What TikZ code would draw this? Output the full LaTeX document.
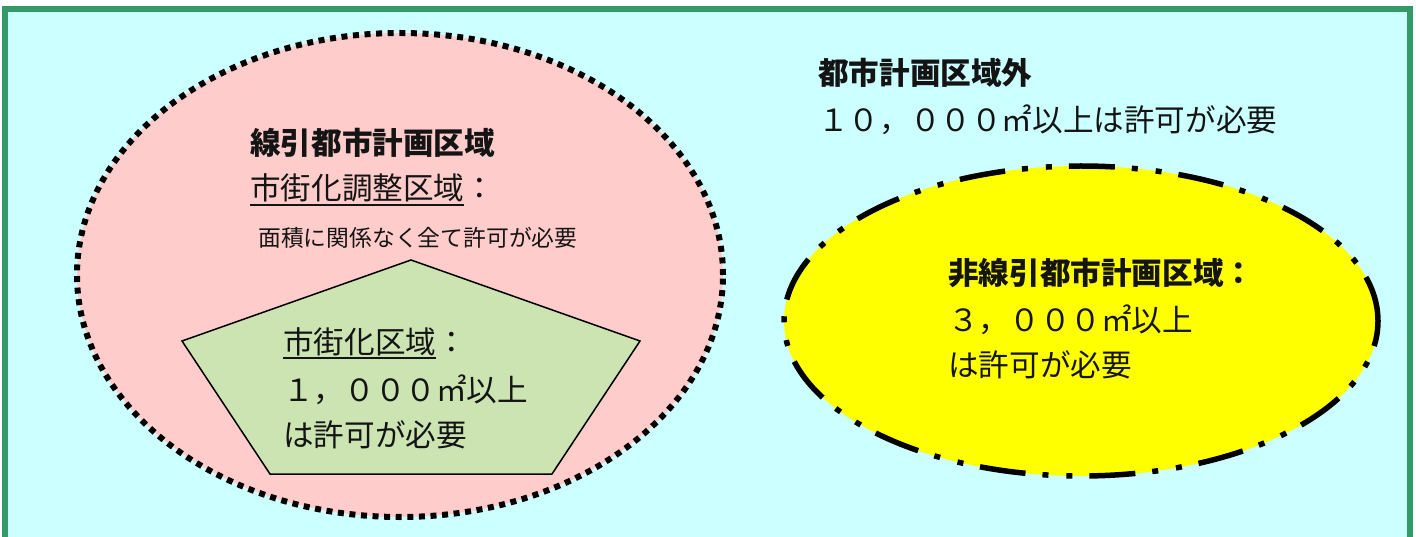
\documentclass[tikz,border=0pt]{standalone}
\usepackage{fontspec}
\usetikzlibrary{shapes.geometric}
\newfontfamily\jp{Noto Sans CJK JP}
\definecolor{bgcyan}{RGB}{204,255,255}
\definecolor{framegreen}{RGB}{51,153,102}
\definecolor{pinkzone}{RGB}{255,204,204}
\definecolor{greenzone}{RGB}{204,228,178}
\definecolor{yellowzone}{RGB}{255,255,0}
\definecolor{txtc}{RGB}{20,20,20}
\newcommand{\myul}[1]{\leavevmode\vtop{\hbox{#1}\kern1.5pt\hrule height 2pt}}
\tikzset{
  txt/.style={anchor=base west, inner sep=0pt, text=txtc, font=\jp\fontsize{30.6}{36}\selectfont},
  smalltxt/.style={txt, font=\jp\fontsize{22.8}{28}\selectfont},
  boldtxt/.style={txt, font=\jp\bfseries\fontsize{30.6}{36}\selectfont},
}
\begin{document}
\begin{tikzpicture}[x=1pt,y=-1pt]
\useasboundingbox (0,0) rectangle (1416,537);
% frame
\path[draw=framegreen, fill=bgcyan, line width=6pt] (4.5,9) rectangle (1410,540);
% pink ellipse (dotted)
\node[ellipse, draw=black, fill=pinkzone, line width=6pt, dash pattern=on 6pt off 5.6pt,
      minimum width=646pt, minimum height=484pt, inner sep=0pt] (senbiki) at (400,275) {};
% yellow ellipse (dash-dot-dot)
\node[ellipse, draw=black, fill=yellowzone, line width=5.5pt,
      dash pattern=on 46pt off 17pt on 6pt off 18pt on 6pt off 17pt,
      minimum width=594pt, minimum height=310pt, inner sep=0pt] (hisenbiki) at (1081,321) {};
% pentagon
\draw[black, fill=greenzone, line width=1.5pt, line join=miter]
  (411,260) -- (640,341) -- (552,474) -- (270,474) -- (182,341) -- cycle;
% outside text
\node[boldtxt] (outtitle) at (818,84.5) {都市計画区域外};
\node[txt] (outrule) at (818,131.5) {１０，０００㎡以上は許可が必要};
% senbiki text
\node[boldtxt] (sentitle) at (250,154.5) {線引都市計画区域};
\node[txt] (chosei) at (250,199.5) {\myul{市街化調整区域}：};
\node[smalltxt] (choseirule) at (258,246.5) {面積に関係なく全て許可が必要};
% shigaika text
\node[txt] (shigaika) at (283,353) {\myul{市街化区域}：};
\node[txt] (shigaika2) at (283,401.5) {１，０００㎡以上};
\node[txt] (shigaika3) at (283,446.5) {は許可が必要};
% hisenbiki text
\node[boldtxt] (hititle) at (948,284.5) {非線引都市計画区域：};
\node[txt] (hirule) at (948,331.5) {３，０００㎡以上};
\node[txt] (hirule2) at (948,376.5) {は許可が必要};
\end{tikzpicture}
\end{document}
